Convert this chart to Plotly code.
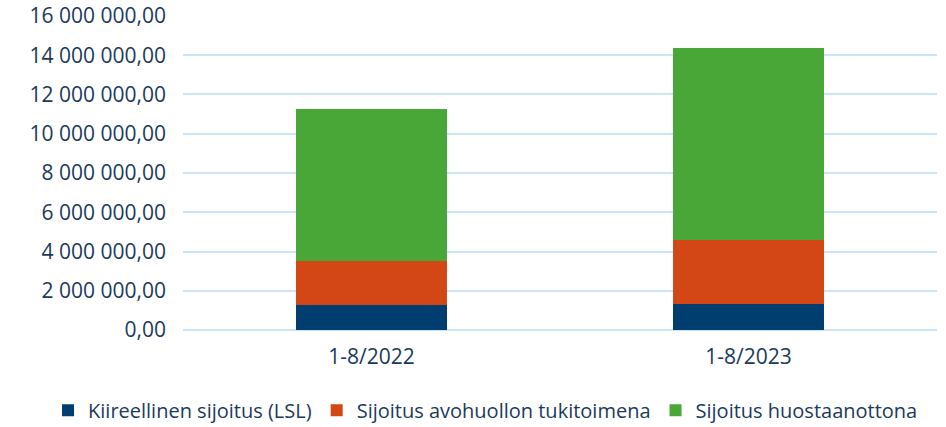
import plotly.graph_objects as go

categories = ["1-8/2022", "1-8/2023"]
kiireellinen = [1270000, 1320000]
avohuolto = [2250000, 3270000]
huostaanotto = [7740000, 9780000]

series_names = ["Kiireellinen sijoitus (LSL)", "Sijoitus avohuollon tukitoimena", "Sijoitus huostaanottona"]
colors = ["#003E6F", "#D34716", "#49A737"]

y_tickvals = [0, 2000000, 4000000, 6000000, 8000000, 10000000, 12000000, 14000000, 16000000]
y_ticktext = ["0,00", "2 000 000,00", "4 000 000,00", "6 000 000,00", "8 000 000,00",
              "10 000 000,00", "12 000 000,00", "14 000 000,00", "16 000 000,00"]

fig = go.Figure()
for name, vals, c in zip(series_names, [kiireellinen, avohuolto, huostaanotto], colors):
    fig.add_trace(go.Bar(x=categories, y=vals, name=name, marker=dict(color=c, line=dict(width=0))))

text_color = "#1B3A5C"
font = "Open Sans"
fig.update_layout(
    barmode="stack",
    bargap=0.6,
    width=946, height=427,
    margin=dict(l=183, r=9, t=15, b=97, autoexpand=False),
    plot_bgcolor="white", paper_bgcolor="white",
    font=dict(family=font, size=20, color=text_color),
    legend=dict(orientation="h", x=-0.179, xanchor="left",
                y=-0.255, yanchor="middle",
                font=dict(size=20, color=text_color), itemwidth=30, traceorder="normal",
                tracegroupgap=0),
    xaxis=dict(showgrid=False, showline=False, ticks="", tickfont=dict(size=21),
               ticklabelstandoff=12, automargin=False),
    yaxis=dict(range=[0, 16050000], tickvals=y_tickvals, ticktext=y_ticktext,
               showgrid=True, gridcolor="#C9E4F8", gridwidth=2,
               zeroline=True, zerolinecolor="#C9E4F8", zerolinewidth=2,
               showline=False, ticks="", tickfont=dict(size=21), ticklabelstandoff=16,
               ticklabeloverflow="allow", automargin=False),
)

# remove the default 8px page margin so the figure fills the window exactly
fig.write_html("out.html", config={"displayModeBar": False},
               post_script="document.body.style.margin='0';")
